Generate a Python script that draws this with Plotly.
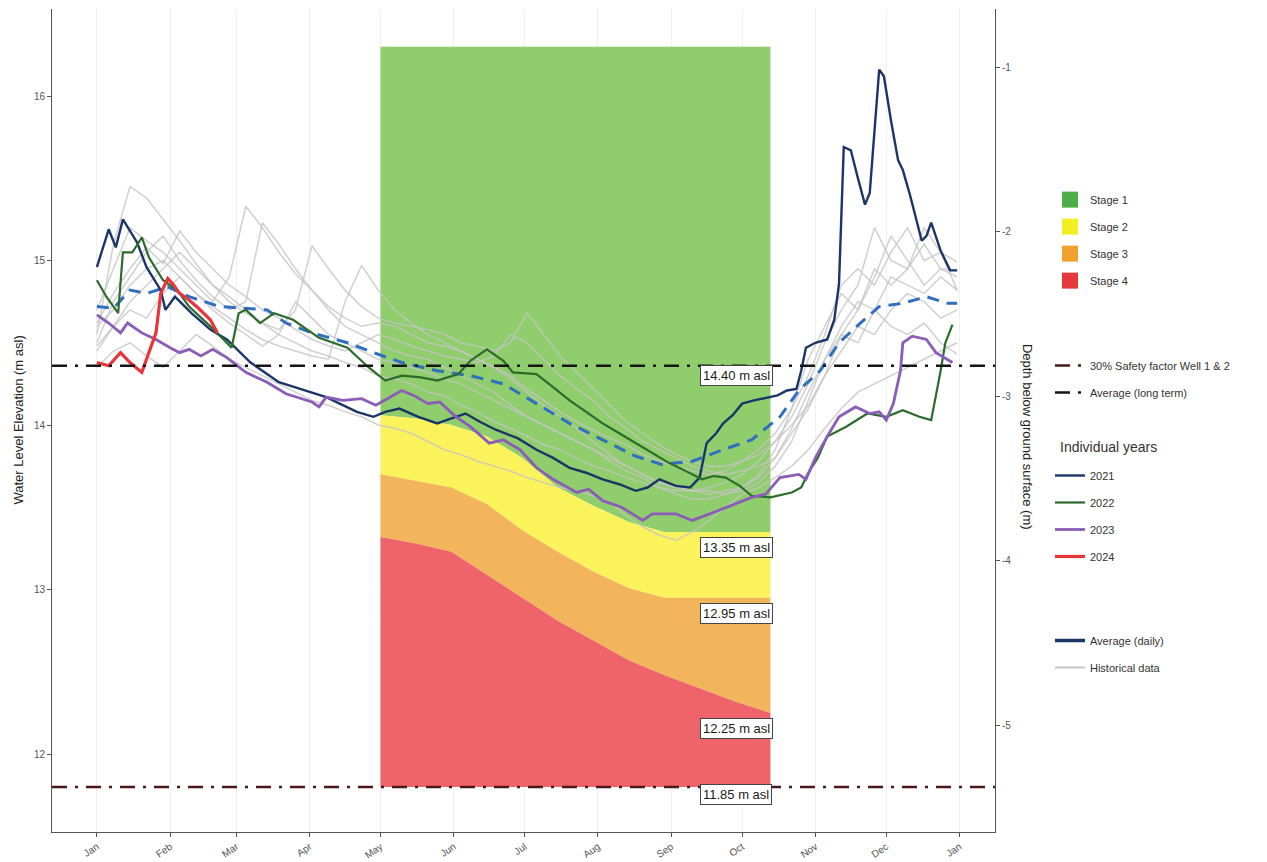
import pandas as pd
import plotly.graph_objects as go

# ---------------- data (day-of-year offsets from 1 Jan, values in m asl) ----------------
BASE = pd.Timestamp("2021-01-01")
GROUND = 17.176  # ground surface elevation used for the secondary depth axis

month_ticks = ["2021-%02d-01" % m for m in range(1, 13)] + ["2022-01-01"]
elev_ticks = [12, 13, 14, 15, 16]
depth_ticks = [-5, -4, -3, -2, -1]

hist_days = list(range(0, 365, 7))
hist_a = [14.55, 15.10, 15.45, 15.38, 15.25, 15.12, 14.98, 14.85, 14.78, 14.70,
          14.62, 14.55, 14.50, 14.45, 14.42, 14.38, 14.35, 14.30, 14.28, 14.25,
          14.20, 14.18, 14.12, 14.08, 14.02, 13.98, 13.93, 13.88, 13.85, 13.80,
          13.75, 13.72, 13.68, 13.65, 13.62, 13.60, 13.60, 13.62, 13.65, 13.70,
          13.78, 13.90, 14.05, 14.25, 14.50, 14.70, 14.85, 15.20, 15.00, 14.95,
          15.10, 14.95, 14.90]
hist_b = [14.70, 14.95, 15.20, 15.12, 15.05, 14.95, 14.85, 14.75, 14.90, 15.33,
          15.20, 15.05, 14.92, 14.82, 14.72, 14.65, 14.60, 14.62, 14.60, 14.55,
          14.50, 14.48, 14.45, 14.40, 14.35, 14.30, 14.22, 14.15, 14.08, 14.02,
          13.97, 13.92, 13.88, 13.82, 13.78, 13.75, 13.72, 13.70, 13.72, 13.78,
          13.85, 13.95, 14.10, 14.30, 14.55, 14.85, 14.95, 14.85, 15.05, 15.20,
          15.00, 15.05, 14.99]
hist_c = [14.50, 14.75, 14.90, 15.05, 15.15, 15.00, 14.88, 14.78, 14.70, 14.75,
          15.23, 15.10, 14.95, 14.82, 14.70, 14.60, 14.55, 14.50, 14.45, 14.42,
          14.40, 14.35, 14.30, 14.25, 14.20, 14.12, 14.05, 14.00, 13.95, 13.90,
          13.85, 13.80, 13.75, 13.70, 13.65, 13.62, 13.60, 13.60, 13.58, 13.60,
          13.65, 13.75, 13.90, 14.15, 14.40, 14.60, 14.75, 14.70, 14.90, 14.85,
          14.80, 14.90, 14.82]
hist_d = [14.45, 14.60, 14.75, 14.85, 14.95, 15.05, 14.95, 14.85, 14.75, 14.68,
          14.62, 14.58, 14.70, 15.09, 14.95, 14.82, 14.72, 14.65, 14.62, 14.60,
          14.58, 14.55, 14.50, 14.48, 14.45, 14.50, 14.68, 14.55, 14.42, 14.32,
          14.22, 14.12, 14.02, 13.95, 13.88, 13.82, 13.78, 13.75, 13.75, 13.78,
          13.82, 13.90, 14.00, 14.12, 14.30, 14.45, 14.60, 14.55, 14.70, 14.80,
          14.75, 14.65, 14.70]
hist_e = [14.60, 14.70, 14.85, 14.95, 15.00, 14.90, 14.80, 14.72, 14.65, 14.58,
          14.52, 14.48, 14.45, 14.42, 14.40, 14.75, 14.97, 14.82, 14.70, 14.62,
          14.55, 14.50, 14.45, 14.40, 14.35, 14.28, 14.20, 14.12, 14.05, 13.98,
          13.90, 13.82, 13.75, 13.70, 13.65, 13.62, 13.60, 13.58, 13.60, 13.62,
          13.68, 13.80, 13.98, 14.20, 14.40, 14.55, 14.50, 14.70, 14.60, 14.55,
          14.62, 14.50, 14.43]
hist_f = [14.35, 14.45, 14.50, 14.42, 14.35, 14.45, 14.55, 14.48, 14.40, 14.35,
          14.30, 14.25, 14.20, 14.15, 14.12, 14.08, 14.05, 14.00, 13.98, 13.95,
          13.90, 13.85, 13.82, 13.78, 13.75, 13.72, 13.68, 13.65, 13.62, 13.60,
          13.57, 13.53, 13.45, 13.38, 13.33, 13.30, 13.35, 13.42, 13.50, 13.58,
          13.62, 13.68, 13.75, 13.85, 13.98, 14.10, 14.20, 14.25, 14.30, 14.35,
          14.40, 14.45, 14.50]
hist_g = [14.48, 14.60, 14.70, 14.65, 14.80, 14.90, 14.80, 14.70, 14.62, 14.55,
          14.48, 14.55, 14.75, 14.65, 14.55, 14.50, 14.45, 14.40, 14.38, 14.35,
          14.32, 14.28, 14.25, 14.20, 14.15, 14.10, 14.05, 14.00, 13.95, 13.90,
          13.85, 13.78, 13.72, 13.68, 13.62, 13.58, 13.55, 13.55, 13.58, 13.62,
          13.70, 13.85, 14.10, 14.40, 14.60, 14.80, 14.70, 14.90, 15.15, 15.00,
          14.85, 14.95, 14.94]
hist_h = [14.62, 14.80, 14.95, 15.08, 14.98, 15.18, 15.05, 14.95, 14.85, 14.78,
          14.70, 14.65, 14.58, 14.52, 14.48, 14.45, 14.50, 14.55, 14.52, 14.48,
          14.45, 14.42, 14.40, 14.38, 14.42, 14.55, 14.50, 14.40, 14.30, 14.22,
          14.15, 14.05, 13.98, 13.90, 13.85, 13.80, 13.75, 13.72, 13.70, 13.72,
          13.75, 13.80, 13.95, 14.10, 14.30, 14.55, 14.70, 14.95, 14.85, 14.95,
          15.20, 15.05, 14.82]

avg_days = [0, 7, 14, 21, 30, 39, 52, 62, 72, 80, 91, 106, 117, 129, 144, 158, 172, 186,
            200, 214, 228, 239, 252, 265, 277, 289, 297, 306, 314, 323, 331, 341, 351, 360, 364]
avg_vals = [14.72, 14.71, 14.82, 14.80, 14.84, 14.78, 14.72, 14.71, 14.70, 14.62, 14.56, 14.50,
            14.44, 14.38, 14.33, 14.30, 14.25, 14.13, 14.01, 13.91, 13.81, 13.76, 13.78, 13.85,
            13.91, 14.05, 14.21, 14.33, 14.50, 14.62, 14.72, 14.74, 14.78, 14.74, 14.74]

y2021_days = [0, 5, 8, 11, 17, 21, 27, 29, 33, 40, 48, 55, 65, 77, 86, 97, 110, 117, 122, 128,
              136, 144, 150, 156, 162, 169, 178, 186, 193, 200, 207, 214, 221, 228, 233, 238,
              245, 251, 255, 258, 262, 265, 269, 273, 278, 284, 288, 292, 296, 298, 300, 304,
              309, 312, 314, 316, 319, 322, 325, 327, 329, 331, 333, 336, 339, 341, 344, 347,
              349, 351, 353, 357, 361, 364]
y2021_vals = [14.96, 15.19, 15.08, 15.25, 15.11, 14.96, 14.82, 14.70, 14.78, 14.68, 14.58, 14.52,
              14.38, 14.26, 14.22, 14.17, 14.08, 14.05, 14.08, 14.10, 14.05, 14.01, 14.04, 14.07,
              14.02, 13.97, 13.92, 13.85, 13.80, 13.74, 13.71, 13.67, 13.64, 13.60, 13.62, 13.67,
              13.63, 13.62, 13.68, 13.89, 13.95, 14.01, 14.06, 14.13, 14.15, 14.17, 14.18, 14.21,
              14.22, 14.33, 14.47, 14.50, 14.52, 14.64, 14.86, 15.69, 15.67, 15.50, 15.34, 15.41,
              15.81, 16.16, 16.12, 15.85, 15.61, 15.55, 15.40, 15.23, 15.12, 15.15, 15.23, 15.06,
              14.94, 14.94]

y2022_days = [0, 4, 9, 11, 15, 19, 22, 28, 34, 39, 48, 53, 57, 60, 63, 69, 75, 83, 94, 106,
              115, 122, 129, 137, 144, 153, 158, 165, 172, 176, 186, 193, 200, 207, 214, 221,
              228, 235, 242, 252, 256, 261, 266, 272, 277, 285, 294, 298, 301, 305, 309, 317,
              326, 334, 341, 348, 353, 357, 359, 362]
y2022_vals = [14.88, 14.78, 14.68, 15.05, 15.05, 15.14, 15.02, 14.88, 14.82, 14.72, 14.60, 14.53,
              14.47, 14.68, 14.70, 14.62, 14.68, 14.64, 14.53, 14.47, 14.35, 14.27, 14.30, 14.29,
              14.27, 14.31, 14.39, 14.46, 14.39, 14.32, 14.31, 14.23, 14.15, 14.08, 14.01, 13.95,
              13.89, 13.83, 13.77, 13.70, 13.67, 13.69, 13.68, 13.63, 13.57, 13.56, 13.59, 13.62,
              13.71, 13.80, 13.93, 13.99, 14.07, 14.05, 14.09, 14.05, 14.03, 14.33, 14.50, 14.61]

y2023_days = [0, 5, 10, 13, 19, 25, 31, 35, 39, 44, 49, 55, 63, 72, 80, 91, 94, 97, 104, 112,
              118, 124, 129, 134, 140, 145, 152, 158, 166, 172, 179, 186, 193, 203, 208, 214,
              222, 231, 235, 245, 252, 263, 270, 277, 283, 289, 297, 300, 304, 309, 314, 321,
              327, 331, 334, 337, 340, 341, 345, 351, 355, 360, 362]
y2023_vals = [14.67, 14.62, 14.56, 14.62, 14.56, 14.52, 14.47, 14.44, 14.46, 14.42, 14.46, 14.41,
              14.32, 14.26, 14.19, 14.14, 14.11, 14.17, 14.15, 14.16, 14.12, 14.17, 14.21, 14.18,
              14.13, 14.14, 14.05, 13.99, 13.89, 13.91, 13.85, 13.74, 13.67, 13.59, 13.61, 13.54,
              13.50, 13.42, 13.46, 13.46, 13.42, 13.48, 13.52, 13.56, 13.58, 13.68, 13.70, 13.67,
              13.80, 13.93, 14.05, 14.11, 14.07, 14.08, 14.03, 14.13, 14.33, 14.50, 14.54, 14.52,
              14.44, 14.40, 14.38]

y2024_days = [0, 5, 10, 14, 19, 22, 25, 27, 30, 32, 35, 39, 43, 48, 51]
y2024_vals = [14.38, 14.36, 14.44, 14.38, 14.32, 14.44, 14.56, 14.80, 14.89, 14.86, 14.80, 14.76,
              14.71, 14.64, 14.56]

stage_days = [120, 135, 150, 165, 180, 195, 210, 225, 240, 255, 270, 285]
stage1_bottom = [14.06, 14.04, 14.00, 13.93, 13.80, 13.62, 13.51, 13.41, 13.35, 13.35, 13.35, 13.35]
stage2_bottom = [13.70, 13.66, 13.62, 13.52, 13.36, 13.23, 13.11, 13.01, 12.95, 12.95, 12.95, 12.95]
stage3_bottom = [13.32, 13.28, 13.23, 13.09, 12.95, 12.81, 12.69, 12.57, 12.48, 12.40, 12.32, 12.25]
stage_top = 16.30
stage4_bottom = 11.80

long_term_avg = 14.36
safety_30 = 11.80
label_values = [14.40, 13.35, 12.95, 12.25, 11.85]
label_day = 255

x_range_days = [-19, 380]
y_range = [11.526, 16.529]

# ---------------- helpers ----------------
def to_dates(days):
    return [BASE + pd.Timedelta(days=int(d)) for d in days]

FONT = "Liberation Sans, Arial, sans-serif"
fig = go.Figure()

# stage bands
sx = to_dates(stage_days)
sx_rev = sx[::-1]
n = len(stage_days)
bands = [
    ("Stage 1", [stage_top] * n, stage1_bottom, "#90cd6c"),
    ("Stage 2", stage1_bottom, stage2_bottom, "#fbf35c"),
    ("Stage 3", stage2_bottom, stage3_bottom, "#f2b55b"),
    ("Stage 4", stage3_bottom, [stage4_bottom] * n, "#ef646b"),
]
for name, top, bot, col in bands:
    fig.add_trace(go.Scatter(
        x=sx + sx_rev, y=list(top) + list(bot)[::-1], fill="toself", fillcolor=col,
        mode="lines", line=dict(width=0, color=col), showlegend=False, hoverinfo="skip"))

# legend-only stage squares
stage_legend_cols = ["#4fae4a", "#f1ee22", "#f0a12c", "#e6383a"]
for (name, _, _, _), col in zip(bands, stage_legend_cols):
    fig.add_trace(go.Scatter(
        x=[None], y=[None], mode="markers", name=name, legend="legend", legendgroup=name,
        marker=dict(symbol="square", size=19, color=col, line=dict(width=0))))

# historical lines
hx = to_dates(hist_days)
for i, vals in enumerate([hist_a, hist_b, hist_c, hist_d, hist_e, hist_f, hist_g, hist_h]):
    fig.add_trace(go.Scatter(
        x=hx, y=vals, mode="lines", line=dict(color="rgba(196,196,196,0.8)", width=1.5),
        showlegend=False, hoverinfo="skip"))

# daily average (dashed blue)
fig.add_trace(go.Scatter(
    x=to_dates(avg_days), y=avg_vals, mode="lines",
    line=dict(color="#2f6fbf", width=3, dash="12px,8px"), showlegend=False))

# individual years
years = [("2021", y2021_days, y2021_vals, "#1b3567", 2.4),
         ("2022", y2022_days, y2022_vals, "#2c6b2c", 2.2),
         ("2023", y2023_days, y2023_vals, "#8b5cb8", 2.8),
         ("2024", y2024_days, y2024_vals, "#e8353a", 3.2)]
for name, d, v, col, w in years:
    fig.add_trace(go.Scatter(
        x=to_dates(d), y=v, mode="lines", name=name, legend="legend3", legendgroup=name,
        line=dict(color=col, width=w)))

# threshold lines
xr = to_dates(x_range_days)
fig.add_trace(go.Scatter(
    x=xr, y=[safety_30, safety_30], mode="lines", name="30% Safety factor Well 1 & 2",
    legend="legend2", legendgroup="safety",
    line=dict(color="#4a1818", width=2.5, dash="15px,8px,3px,8px")))
fig.add_trace(go.Scatter(
    x=xr, y=[long_term_avg, long_term_avg], mode="lines", name="Average (long term)",
    legend="legend2", legendgroup="lt",
    line=dict(color="#151515", width=2.5, dash="15px,8px,3px,8px")))

# legend keys for average / historical
fig.add_trace(go.Scatter(x=[None], y=[None], mode="lines", name="Average (daily)",
                         legend="legend4", legendgroup="avg",
                         line=dict(color="#1b3567", width=3.5)))
fig.add_trace(go.Scatter(x=[None], y=[None], mode="lines", name="Historical data",
                         legend="legend4", legendgroup="hist",
                         line=dict(color="#c8c8c8", width=2)))

# secondary axis anchor trace
fig.add_trace(go.Scatter(x=[None], y=[None], yaxis="y2", showlegend=False, hoverinfo="skip"))

# threshold labels
for v in label_values:
    fig.add_annotation(
        x=BASE + pd.Timedelta(days=label_day), y=v, xref="x", yref="y",
        text="%.2f m asl" % v, showarrow=False, xanchor="left", yanchor="middle", yshift=-16,
        font=dict(family=FONT, size=13, color="#1a1a1a"),
        bgcolor="white", bordercolor="#444", borderwidth=1, borderpad=2)

# axis titles
fig.add_annotation(x=-0.036, y=0.5, xref="paper", yref="paper", text="Water Level Elevation (m asl)",
                   textangle=-90, showarrow=False, xanchor="center", yanchor="middle",
                   font=dict(family=FONT, size=13, color="#222"))
fig.add_annotation(x=1.034, y=0.48, xref="paper", yref="paper", text="Depth below ground surface (m)",
                   textangle=90, showarrow=False, xanchor="center", yanchor="middle",
                   font=dict(family=FONT, size=13, color="#222"))
# legend section title
fig.add_annotation(x=1.0668, y=0.4678, xref="paper", yref="paper", text="Individual years",
                   showarrow=False, xanchor="left", yanchor="middle",
                   font=dict(family=FONT, size=14, color="#333"))

legend_common = dict(font=dict(family=FONT, size=11, color="#333"), bgcolor="rgba(0,0,0,0)",
                     xanchor="left", yanchor="top", tracegroupgap=8, traceorder="grouped")
LX = 1.0583
fig.update_layout(
    width=1267, height=862,
    margin=dict(l=52, r=272, t=9, b=30),
    paper_bgcolor="white", plot_bgcolor="white",
    font=dict(family=FONT, size=10, color="#555"),
    xaxis=dict(type="date", range=xr, tickvals=month_ticks, tickformat="%b", tickangle=-35,
               showgrid=True, gridcolor="#f0f0f0", gridwidth=1, ticks="outside", ticklen=4,
               tickcolor="#555", showline=True, linecolor="#555", linewidth=1, zeroline=False,
               tickfont=dict(family=FONT, size=10, color="#555"), automargin=False),
    yaxis=dict(range=y_range, tickvals=elev_ticks, showgrid=False, zeroline=False,
               ticks="outside", ticklen=4, tickcolor="#555", showline=True, linecolor="#555",
               linewidth=1, tickfont=dict(family=FONT, size=10, color="#555"), automargin=False),
    yaxis2=dict(range=[y_range[0] - GROUND, y_range[1] - GROUND], overlaying="y", side="right",
                anchor="x", tickvals=depth_ticks, ticktext=[str(t) for t in depth_ticks],
                showgrid=False, zeroline=False, ticks="outside", ticklen=4, tickcolor="#555",
                showline=True, linecolor="#555", linewidth=1,
                tickfont=dict(family=FONT, size=10, color="#555"), automargin=False),
    legend=dict(x=LX, y=0.786, **legend_common),
    legend2=dict(x=LX, y=0.5845, **legend_common),
    legend3=dict(x=LX, y=0.4508, **legend_common),
    legend4=dict(x=LX, y=0.2503, **legend_common),
)

fig.write_html("out.html", config={"displayModeBar": False},
               post_script="document.body.style.margin='0px';")
